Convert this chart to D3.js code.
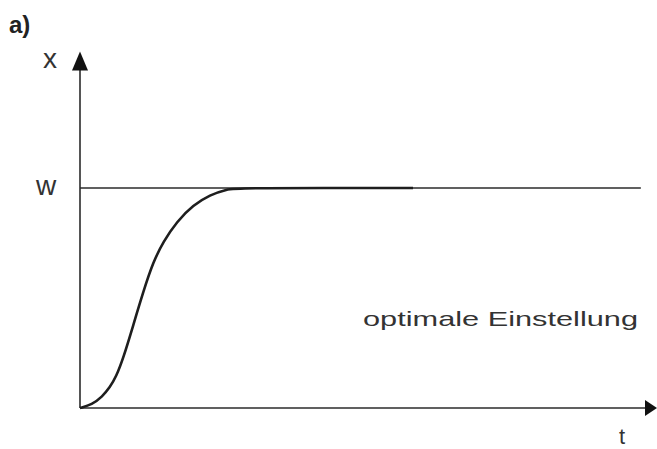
<!DOCTYPE html>
<html>
<head>
<meta charset="utf-8">
<script src="https://cdn.jsdelivr.net/npm/d3@7"></script>
<style>
  html, body { margin: 0; padding: 0; background: #fff; }
  svg { display: block; }
</style>
</head>
<body>
<svg id="chart" width="657" height="449"></svg>
<script>
// Step response of the controlled variable x(t) towards setpoint w (normalised, w = 1)
const timeValues = [0, 0.208, 0.381, 0.52, 0.624, 0.75, 0.924, 1.097, 1.27, 1.445, 1.676, 1.964, 2.253, 2.542, 2.773, 5.771];
const responseValues = [0, 0.016, 0.05, 0.095, 0.141, 0.226, 0.377, 0.529, 0.665, 0.756, 0.847, 0.923, 0.968, 0.995, 1, 1];
const setpoint = 1;
const setpointEnd = 9.72;
const axisEnds = { t: 10, x: 1.62 };
const labels = { panel: "a)", yAxis: "x", xAxis: "t", setpoint: "w", caption: "optimale Einstellung" };

const svg = d3.select("#chart");
const ink = "#2b2b2b";
const font = "Liberation Sans, Arial, sans-serif";

const xScale = d3.scaleLinear().domain([0, 10]).range([80, 657]);
const yScale = d3.scaleLinear().domain([0, 1]).range([408, 188]);

const x0 = xScale(0), y0 = yScale(0);

// Setpoint line w
svg.append("line")
  .attr("x1", x0).attr("x2", xScale(setpointEnd))
  .attr("y1", yScale(setpoint)).attr("y2", yScale(setpoint))
  .attr("stroke", ink).attr("stroke-width", 1.4);

// Axes with arrow heads
const yTip = yScale(axisEnds.x);
const xTip = xScale(axisEnds.t);
svg.append("line")
  .attr("x1", x0).attr("x2", x0)
  .attr("y1", y0).attr("y2", yTip + 10)
  .attr("stroke", ink).attr("stroke-width", 1.6);
svg.append("line")
  .attr("x1", x0).attr("x2", xTip - 8)
  .attr("y1", y0).attr("y2", y0)
  .attr("stroke", ink).attr("stroke-width", 1.6);

svg.append("path")
  .attr("d", `M${x0},${yTip} L${x0 - 8},${yTip + 19} L${x0 + 8},${yTip + 19} Z`)
  .attr("fill", "#111");
svg.append("path")
  .attr("d", `M${xTip},${y0} L${xTip - 12},${y0 - 8} L${xTip - 12},${y0 + 8} Z`)
  .attr("fill", "#111");

// Response curve (B-spline through the sampled points for a smooth S-shape)
const line = d3.line()
  .x((d, i) => xScale(timeValues[i]))
  .y(d => yScale(d))
  .curve(d3.curveBasis);

svg.append("path")
  .datum(responseValues)
  .attr("d", line)
  .attr("fill", "none")
  .attr("stroke", "#1e1e1e")
  .attr("stroke-width", 2.6)
  .attr("stroke-linecap", "butt");

// Labels
svg.append("text")
  .attr("x", 9).attr("y", 33)
  .attr("font-family", font)
  .attr("font-weight", "bold").attr("font-size", 24)
  .attr("fill", "#222")
  .text(labels.panel);

svg.append("text")
  .attr("x", 43).attr("y", 68)
  .attr("font-family", font)
  .attr("font-size", 28).attr("fill", "#333")
  .text(labels.yAxis);

svg.append("text")
  .attr("x", 36).attr("y", 195)
  .attr("font-family", font)
  .attr("font-size", 28).attr("fill", "#333")
  .text(labels.setpoint);

svg.append("text")
  .attr("x", 619).attr("y", 444)
  .attr("font-family", font)
  .attr("font-size", 22).attr("fill", "#333")
  .text(labels.xAxis);

svg.append("text")
  .attr("x", 363).attr("y", 326)
  .attr("font-family", font)
  .attr("font-size", 21).attr("fill", "#333")
  .attr("textLength", 275).attr("lengthAdjust", "spacingAndGlyphs")
  .text(labels.caption);
</script>
</body>
</html>
